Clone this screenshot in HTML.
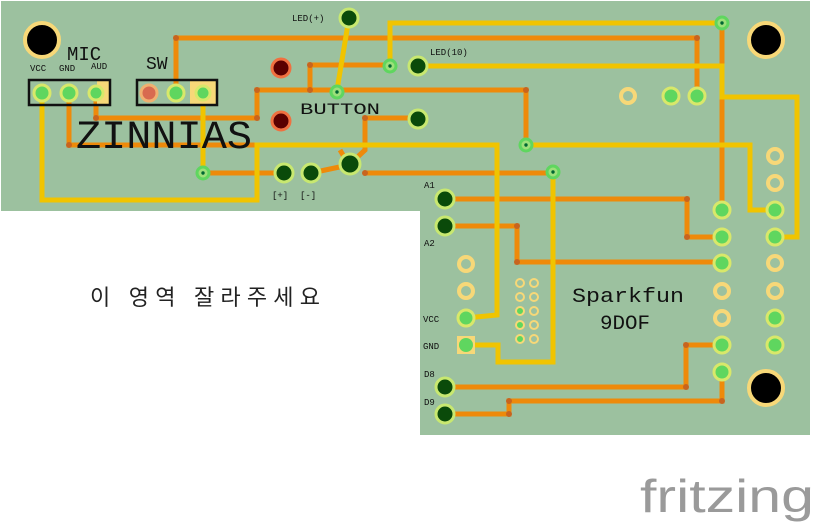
<!DOCTYPE html>
<html><head><meta charset="utf-8"><style>
html,body{margin:0;padding:0;background:#fff;width:816px;height:522px;overflow:hidden}
svg{display:block}
text{font-family:"Liberation Mono",monospace}
</style></head><body>
<svg width="816" height="522" viewBox="0 0 816 522" xmlns="http://www.w3.org/2000/svg">
<path d="M1 1H810V435H420V211H1Z" fill="#9cc19f"/>
<g fill="none" stroke="#ee8a0a" stroke-width="5" stroke-linejoin="miter">
<polyline points="176,93 176,38 697,38 697,96"/>
<polyline points="96,93 96,118 257,118 257,90 310,90 310,65 390,65"/>
<polyline points="310,90 526,90 526,145"/>
<polyline points="69,93 69,145 257,145"/>
<polyline points="203,173 284,173"/>
<polyline points="311,173 349,165"/>
<polyline points="340,150 349,165 365,150 365,118 418,118"/>
<polyline points="365,173 552,173"/>
<polyline points="722,23 722,210"/>
<polyline points="445,199 687,199 687,237 722,237"/>
<polyline points="445,226 517,226 517,262 722,262"/>
<polyline points="445,387 686,387 686,345 722,345"/>
<polyline points="445,414 509,414 509,401 722,401 722,372"/>
</g>
<g fill="#c8641e">
<circle cx="176" cy="38" r="3"/><circle cx="697" cy="38" r="3"/><circle cx="96" cy="118" r="3"/><circle cx="257" cy="118" r="3"/><circle cx="257" cy="90" r="3"/><circle cx="310" cy="90" r="3"/><circle cx="310" cy="65" r="3"/><circle cx="526" cy="90" r="3"/><circle cx="69" cy="145" r="3"/><circle cx="365" cy="118" r="3"/><circle cx="365" cy="173" r="3"/><circle cx="687" cy="199" r="3"/><circle cx="687" cy="237" r="3"/><circle cx="517" cy="226" r="3"/><circle cx="517" cy="262" r="3"/><circle cx="686" cy="387" r="3"/><circle cx="686" cy="345" r="3"/><circle cx="509" cy="414" r="3"/><circle cx="509" cy="401" r="3"/><circle cx="722" cy="401" r="3"/>
</g>
<g fill="none" stroke="#f0c400" stroke-width="5">
<polyline points="42,93 42,200 257,200 257,145 497,145 497,315 466,318"/>
<polyline points="203,93 203,173"/>
<polyline points="349,18 337,90"/>
<polyline points="390,66 390,23 722,23"/>
<polyline points="418,66 722,66 722,97 797,97 797,237 775,237"/>
<polyline points="526,145 750,145 750,210 775,210"/>
<polyline points="466,345 498,345 498,362 553,362 553,172"/>
</g>
<g fill="#000" stroke="#f7d878" stroke-width="4"><circle cx="42" cy="40" r="17"/><circle cx="766" cy="40" r="17"/><circle cx="766" cy="388" r="17"/></g>
<rect x="97" y="80" width="13" height="25" fill="#f7d878"/>
<rect x="190" y="80" width="26" height="25" fill="#f7d878"/>
<g fill="none" stroke="#111" stroke-width="2.5"><rect x="29" y="80" width="81" height="25"/><rect x="137" y="80" width="80" height="25"/></g>
<g fill="#5fd65f" stroke="#d8e86a" stroke-width="3">
<circle cx="42" cy="93" r="8"/><circle cx="69" cy="93" r="8"/><circle cx="96" cy="93" r="7"/><circle cx="176" cy="93" r="8"/><circle cx="203" cy="93" r="7"/>
<circle cx="671" cy="96" r="8"/><circle cx="697" cy="96" r="8"/>
<circle cx="722" cy="210" r="8"/><circle cx="722" cy="237" r="8"/><circle cx="722" cy="263" r="8"/><circle cx="722" cy="345" r="8"/><circle cx="722" cy="372" r="8"/>
<circle cx="775" cy="210" r="8"/><circle cx="775" cy="237" r="8"/><circle cx="775" cy="318" r="8"/><circle cx="775" cy="345" r="8"/>
<circle cx="466" cy="318" r="8"/>
</g>
<rect x="457" y="336" width="18" height="18" fill="#f7d878"/><circle cx="466" cy="345" r="7" fill="#5fd65f"/>
<circle cx="149" cy="93" r="8" fill="#d86a50" stroke="#f0b070" stroke-width="3"/>
<g fill="none" stroke="#f7d878" stroke-width="4">
<circle cx="628" cy="96" r="7"/><circle cx="722" cy="291" r="7"/><circle cx="722" cy="318" r="7"/><circle cx="775" cy="156" r="7"/><circle cx="775" cy="183" r="7"/><circle cx="775" cy="263" r="7"/><circle cx="775" cy="291" r="7"/><circle cx="466" cy="264" r="7"/><circle cx="466" cy="291" r="7"/>
</g>
<g fill="none" stroke="#f7d878" stroke-width="2">
<circle cx="520" cy="283" r="4"/><circle cx="534" cy="283" r="4"/><circle cx="520" cy="297" r="4"/><circle cx="534" cy="297" r="4"/><circle cx="534" cy="311" r="4"/><circle cx="534" cy="325" r="4"/><circle cx="534" cy="339" r="4"/>
</g>
<g fill="#5fd65f" stroke="#f7d878" stroke-width="2"><circle cx="520" cy="311" r="4"/><circle cx="520" cy="325" r="4"/><circle cx="520" cy="339" r="4"/></g>
<g fill="#5a0000" stroke="#f07040" stroke-width="3"><circle cx="281" cy="68" r="9"/><circle cx="281" cy="121" r="9"/></g>
<g fill="#0a4a0a" stroke="#c8e870" stroke-width="3">
<circle cx="349" cy="18" r="9"/><circle cx="418" cy="66" r="9"/><circle cx="418" cy="119" r="9"/><circle cx="284" cy="173" r="9"/><circle cx="311" cy="173" r="9"/><circle cx="350" cy="164" r="10"/>
<circle cx="445" cy="199" r="9"/><circle cx="445" cy="226" r="9"/><circle cx="445" cy="387" r="9"/><circle cx="445" cy="414" r="9"/>
</g>
<g fill="#9de07a" stroke="#5fd65f" stroke-width="3">
<circle cx="203" cy="173" r="6"/><circle cx="337" cy="92" r="6"/><circle cx="390" cy="66" r="6"/><circle cx="722" cy="23" r="6"/><circle cx="526" cy="145" r="6"/><circle cx="553" cy="172" r="6"/>
</g>
<g fill="#063"><circle cx="203" cy="173" r="1.7"/><circle cx="337" cy="92" r="1.7"/><circle cx="390" cy="66" r="1.7"/><circle cx="722" cy="23" r="1.7"/><circle cx="526" cy="145" r="1.7"/><circle cx="553" cy="172" r="1.7"/></g>
<g fill="#111">
<text x="67" y="60" font-size="19">MIC</text>
<text x="146" y="69" font-size="18">SW</text>
<text x="30" y="71" font-size="9">VCC</text><text x="59" y="71" font-size="9">GND</text><text x="91" y="69" font-size="9">AUD</text>
<text x="76" y="148" font-size="40" textLength="176" lengthAdjust="spacingAndGlyphs">ZINNIAS</text>
<text x="300" y="114" font-size="16" textLength="80" lengthAdjust="spacingAndGlyphs">BUTTON</text>
<text x="292" y="21" font-size="9">LED(+)</text>
<text x="430" y="55" font-size="9">LED(10)</text>
<text x="272" y="198" font-size="9">[+]</text><text x="300" y="198" font-size="9">[-]</text>
<text x="424" y="188" font-size="9">A1</text><text x="424" y="246" font-size="9">A2</text>
<text x="423" y="322" font-size="9">VCC</text><text x="423" y="349" font-size="9">GND</text>
<text x="424" y="377" font-size="9">D8</text><text x="424" y="405" font-size="9">D9</text>
<text x="572" y="302" font-size="20" textLength="112" lengthAdjust="spacingAndGlyphs">Sparkfun</text>
<text x="600" y="329" font-size="20" textLength="50" lengthAdjust="spacingAndGlyphs">9DOF</text>
</g>
<text x="90" y="305" font-size="22" fill="#222" style="font-family:'Liberation Sans','Noto Sans CJK KR',sans-serif" textLength="230" lengthAdjust="spacing">이 영역 잘라주세요</text>
<text x="640" y="512" font-size="46" fill="#9a9a9a" style="font-family:'Liberation Sans',sans-serif" textLength="174" lengthAdjust="spacingAndGlyphs">fritzing</text>
</svg>
</body></html>
